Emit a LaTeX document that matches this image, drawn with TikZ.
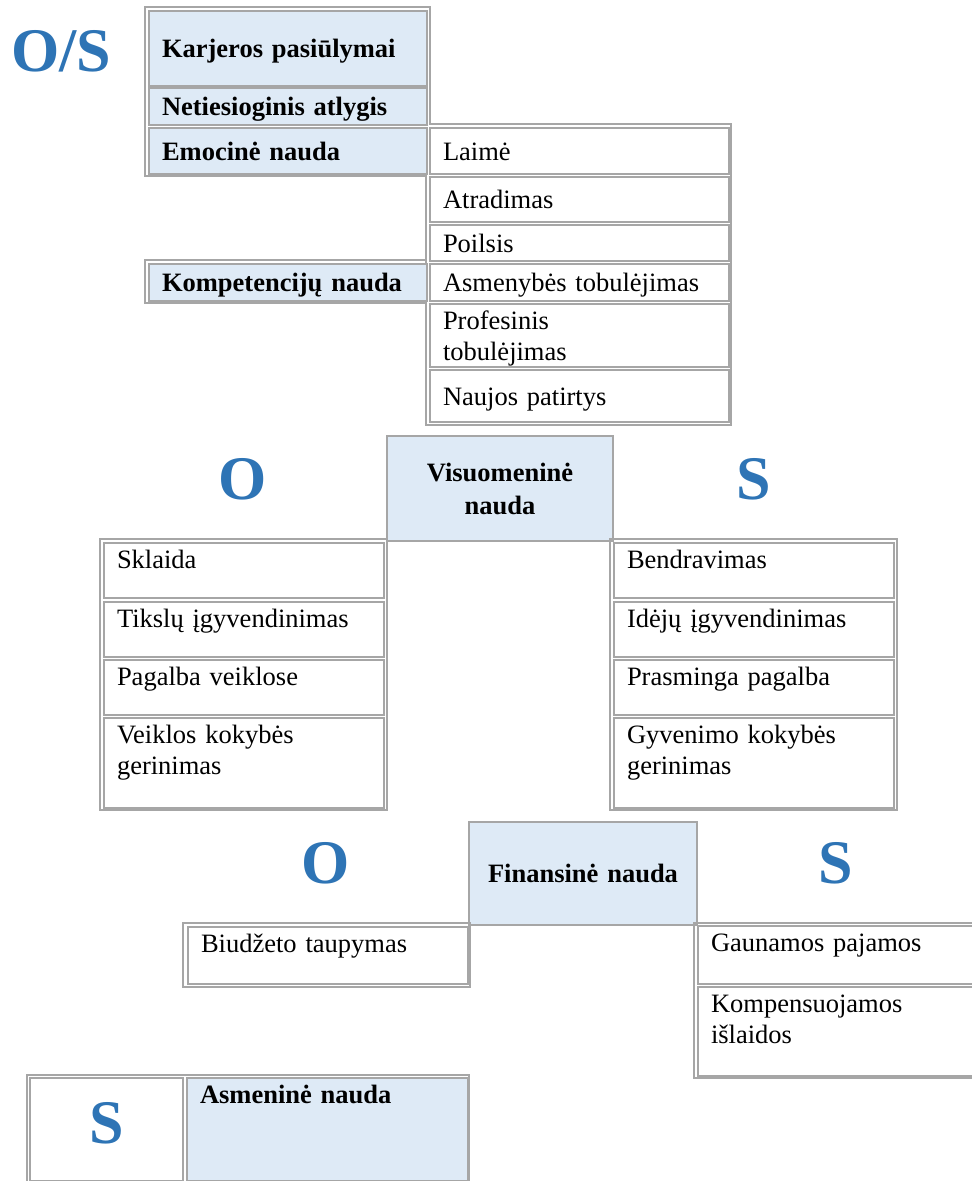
\documentclass[tikz,border=0pt]{standalone}
\usepackage{fontspec}
\setmainfont{Liberation Serif}
\definecolor{frameGray}{RGB}{166,166,166}
\definecolor{headBlue}{RGB}{222,234,246}
\definecolor{osBlue}{RGB}{46,116,181}

\begin{document}
\begin{tikzpicture}[x=1pt, y=-1pt,
    cell/.style={draw=frameGray, line width=2pt, anchor=north west, inner xsep=13pt,
        inner ysep=0pt, align=left, font=\fontsize{26.5}{31}\selectfont},
    head/.style={cell, fill=headBlue, font=\fontsize{26.5}{31}\selectfont\bfseries},
    midrow/.style={text height=22pt, text depth=4pt},
    toprow/.style={text height=25pt},
    frame/.style={draw=frameGray, line width=1.2pt},
    bigletter/.style={text=osBlue, inner sep=0pt, font=\fontsize{62}{62}\selectfont\bfseries}
]
\useasboundingbox (0,0) rectangle (972,1181);

% karjeros pasiulymai
\node[bigletter] (osTop) at (61,51) {O/S};
\draw[frame] (145,176) -- (145,7) -- (430,7) -- (430,124) -- (731,124) -- (731,425)
    -- (426,425) -- (426,176) -- cycle;
\draw[frame] (145,260) rectangle (426,303);
\node[head, midrow, minimum width=278pt, minimum height=75pt, text width=252pt] (karjeros) at (148,10) {Karjeros pasiūlymai};
\node[head, midrow, minimum width=278pt, minimum height=37pt, text width=252pt] (netiesioginis) at (148,87) {Netiesioginis atlygis};
\node[head, midrow, minimum width=278pt, minimum height=46pt, text width=252pt] (emocine) at (148,127) {Emocinė nauda};
\node[cell, midrow, minimum width=299pt, minimum height=46pt, text width=273pt] (laime) at (429,127) {Laimė};
\node[cell, midrow, minimum width=299pt, minimum height=45pt, text width=273pt] (atradimas) at (429,176) {Atradimas};
\node[cell, midrow, minimum width=299pt, minimum height=36pt, text width=273pt] (poilsis) at (429,224) {Poilsis};
\node[head, midrow, minimum width=278pt, minimum height=37pt, text width=252pt] (kompetenciju) at (148,263) {Kompetencijų nauda};
\node[cell, midrow, minimum width=299pt, minimum height=37pt, text width=273pt] (asmenybes) at (429,263) {Asmenybės tobulėjimas};
\node[cell, midrow, minimum width=299pt, minimum height=63pt, text width=273pt, text depth=35pt] (profesinis) at (429,303) {Profesinis\\tobulėjimas};
\node[cell, midrow, minimum width=299pt, minimum height=52pt, text width=273pt] (naujos) at (429,369) {Naujos patirtys};

% visuomenine nauda
\node[bigletter] (visO) at (243,479) {O};
\node[bigletter] (visS) at (754,479) {S};
\node[head, midrow, align=center, minimum width=226pt, minimum height=105pt, text width=200pt,
    text depth=37pt, font=\fontsize{26.5}{33}\selectfont\bfseries] (visuomenine) at (386,435) {Visuomeninė\\nauda};
\draw[frame] (100,539) rectangle (387,810);
\draw[frame] (610,539) rectangle (897,810);
\node[cell, toprow, minimum width=280pt, minimum height=55pt, text width=254pt, text depth=30pt] (sklaida) at (103,542) {Sklaida};
\node[cell, toprow, minimum width=280pt, minimum height=55pt, text width=254pt, text depth=30pt] (tikslu) at (103,601) {Tikslų įgyvendinimas};
\node[cell, toprow, minimum width=280pt, minimum height=55pt, text width=254pt, text depth=30pt] (pagalba) at (103,659) {Pagalba veiklose};
\node[cell, toprow, minimum width=280pt, minimum height=90pt, text width=254pt, text depth=65pt] (veiklos) at (103,717) {Veiklos kokybės\\gerinimas};
\node[cell, toprow, minimum width=280pt, minimum height=55pt, text width=254pt, text depth=30pt] (bendravimas) at (613,542) {Bendravimas};
\node[cell, toprow, minimum width=280pt, minimum height=55pt, text width=254pt, text depth=30pt] (ideju) at (613,601) {Idėjų įgyvendinimas};
\node[cell, toprow, minimum width=280pt, minimum height=55pt, text width=254pt, text depth=30pt] (prasminga) at (613,659) {Prasminga pagalba};
\node[cell, toprow, minimum width=280pt, minimum height=90pt, text width=254pt, text depth=65pt] (gyvenimo) at (613,717) {Gyvenimo kokybės\\gerinimas};

% finansine nauda
\node[bigletter] (finO) at (326,863) {O};
\node[bigletter] (finS) at (836,863) {S};
\node[head, midrow, align=center, minimum width=228pt, minimum height=103pt, text width=202pt] (finansine) at (468,821) {Finansinė nauda};
\draw[frame] (183,923) rectangle (470,987);
\draw[frame] (985,923) -- (694,923) -- (694,1078) -- (985,1078);
\node[cell, toprow, minimum width=280pt, minimum height=57pt, text width=254pt, text depth=32pt] (biudzeto) at (187,926) {Biudžeto taupymas};
\node[cell, toprow, minimum width=290pt, minimum height=58pt, text width=264pt, text depth=33pt] (gaunamos) at (697,925) {Gaunamos pajamos};
\node[cell, toprow, minimum width=290pt, minimum height=89pt, text width=264pt, text depth=64pt] (kompensuojamos) at (697,986) {Kompensuojamos\\išlaidos};

% asmenine nauda
\draw[frame] (27,1075) rectangle (469,1185);
\node[cell, align=center, minimum width=153pt, minimum height=103pt, text width=127pt,
    text=osBlue, font=\fontsize{62}{62}\selectfont\bfseries, text height=45pt, text depth=18pt] (asmS) at (29,1077) {S};
\node[head, toprow, minimum width=281pt, minimum height=103pt, text width=255pt, text depth=78pt] (asmenine) at (186,1077) {Asmeninė nauda};
\end{tikzpicture}
\end{document}
